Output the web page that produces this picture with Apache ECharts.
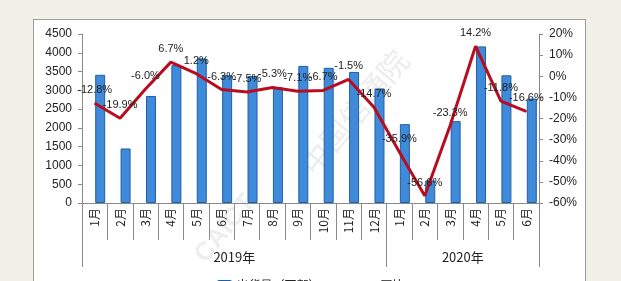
<!DOCTYPE html>
<html><head><meta charset="utf-8">
<script src="https://cdn.jsdelivr.net/npm/echarts@6/dist/echarts.min.js"></script>
<style>
html,body{margin:0;padding:0;background:#f2f1e8;width:621px;height:281px;overflow:hidden;}
#panel{position:absolute;left:33px;top:19px;width:553px;height:280px;background:#fff;border:1.5px solid #9c9c9c;box-sizing:border-box;}
#c{position:absolute;left:0;top:0;width:621px;height:281px;}
</style></head>
<body><div id="panel"></div><div id="c"></div>
<script>
const months = ['1月','2月','3月','4月','5月','6月','7月','8月','9月','10月','11月','12月','1月','2月','3月','4月','5月','6月'];
const years = ['2019年','2020年'];
const yearBounds = [0, 12, 18];
const yearCenters = [6, 15];
const shipments = [3414, 1452, 2850, 3670, 3850, 3400, 3380, 3080, 3650, 3600, 3490, 3050, 2100, 600, 2180, 4170, 3400, 2780];
const yoy = [-12.8, -19.9, -6.0, 6.7, 1.2, -6.3, -7.5, -5.3, -7.1, -6.7, -1.5, -14.7, -35.9, -56.6, -23.3, 14.2, -11.8, -16.6];
const leftTicks = [0, 4500, 500];
const rightTicks = [-60, 20, 10];

const chart = echarts.init(document.getElementById('c'), null, {renderer:'canvas'});
const axisGray = '#8a8a8a';
const txt = '#222';
const numFont = 'Liberation Sans, Arial, sans-serif';
chart.setOption({
  backgroundColor: 'transparent',
  animation: false,
  grid: {left: 82, right: 82, top: 34, bottom: 78, containLabel: false},
  legend: {
    top: 274, left: 'center', itemWidth: 14, itemHeight: 8, itemGap: 40,
    data: [{name:'出货量（万部）'}, {name:'同比'}],
    textStyle: {fontSize: 12, color: txt, fontFamily: 'Noto Sans CJK SC'}
  },
  xAxis: [{
    type: 'category', data: months, position: 'bottom',
    axisLine: {show: true, lineStyle: {color: axisGray, width: 1}},
    axisTick: {show: true, interval: 0, length: 37, lineStyle: {color: axisGray}},
    axisLabel: {interval: 0, rotate: 90, margin: 5, fontSize: 12, color: txt, fontFamily: 'Noto Sans CJK SC, Liberation Sans'}
  }, {
    type: 'category', data: months, position: 'top', show: false
  }, {
    type: 'value', min: 0, max: months.length, position: 'bottom', offset: 0,
    axisLine: {show: false},
    splitLine: {show: false},
    axisTick: {show: true, customValues: yearBounds, length: 64, lineStyle: {color: axisGray}},
    axisLabel: {customValues: yearCenters, margin: 48, fontSize: 13, color: txt, fontFamily: 'Noto Sans CJK SC',
      formatter: v => v < 12 ? years[0] : years[1]}
  }],
  yAxis: [{
    type: 'value', min: leftTicks[0], max: leftTicks[1], interval: leftTicks[2], position: 'left',
    axisLine: {show: true, lineStyle: {color: axisGray}},
    axisTick: {show: true, length: 4, lineStyle: {color: axisGray}},
    splitLine: {show: false},
    axisLabel: {margin: 10, fontSize: 12, color: txt, fontFamily: numFont, formatter: v => String(v)}
  }, {
    type: 'value', min: rightTicks[0], max: rightTicks[1], interval: rightTicks[2], position: 'right',
    axisLine: {show: true, lineStyle: {color: axisGray}},
    axisTick: {show: true, length: 4, lineStyle: {color: axisGray}},
    splitLine: {show: false},
    axisLabel: {margin: 10, fontSize: 12, color: txt, fontFamily: numFont, formatter: v => v + '%'}
  }],
  graphic: [{
    type: 'text', left: 295, top: 45, rotation: Math.PI*0.28, z: 1,
    style: {text: '中国信通院', font: '30px "Noto Sans CJK SC"', fill: 'rgba(170,170,170,0.22)'}
  }, {
    type: 'text', left: 190, top: 190, rotation: Math.PI*0.28, z: 1,
    style: {text: 'CAICT', font: 'bold 26px "Liberation Sans"', fill: 'rgba(170,170,170,0.2)'}
  }],
  series: [{
    name: 'ghost', type: 'bar', data: months.map(() => '-'), barWidth: 10, barGap: '10%'
  }, {
    name: '出货量（万部）', type: 'bar', data: shipments, barWidth: 10, barGap: '10%',
    itemStyle: {color: '#3f8ad9', borderColor: '#1f5fa8', borderWidth: 1}, z: 3
  }, {
    name: '同比', type: 'line', yAxisIndex: 1, data: yoy, symbol: 'circle', symbolSize: 1, showSymbol: true, z: 5,
    lineStyle: {color: '#b80d1e', width: 3},
    itemStyle: {color: '#b80d1e'},
    label: {show: true, position: 'top', distance: 7, fontSize: 11, color: '#222',
      fontFamily: 'Liberation Sans Narrow, Liberation Sans, sans-serif',
      formatter: p => Number(p.value).toFixed(1) + '%'}
  }]
});
</script></body></html>
